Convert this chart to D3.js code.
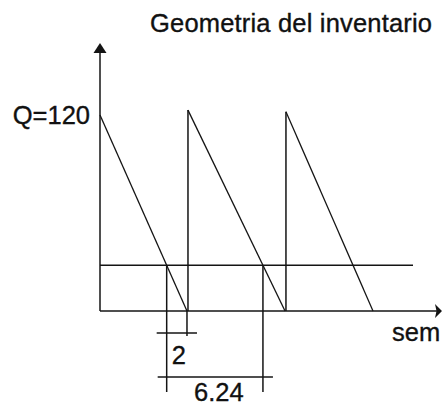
<!DOCTYPE html>
<html>
<head>
<meta charset="utf-8">
<script src="https://cdn.jsdelivr.net/npm/d3@7"></script>
<style>
  html, body { margin: 0; padding: 0; background: #fff; }
  svg { display: block; }
  text { font-family: "Liberation Sans", Arial, sans-serif; fill: #111; stroke: #111; stroke-width: 0.35; }
</style>
</head>
<body>
<svg id="chart" width="447" height="407"></svg>
<script>
// Inventory cycles (time in weeks, stock in units)
const cycleStart = [0, 5.72, 12.09];     // order arrives
const cycleEnd   = [5.655, 12.03, 17.75]; // stock reaches zero
const cyclePeak  = [120, 123, 122];       // stock right after arrival
const reorderLevel = 28;                  // reorder point
const reorderSpan  = [0, 20.35];          // extent of reorder line

const title = "Geometria del inventario";
const qLabel = "Q=120";
const xLabel = "sem";
const leadLabel = "2";
const cycleLabel = "6.24";

const svg = d3.select("#chart");
const ink = "#141414";
const fs = 25.5;

const x = d3.scaleLinear().domain([0, 22.04]).range([100, 439]);
const y = d3.scaleLinear().domain([0, 120]).range([311, 115]);

// Axes
svg.append("line").attr("x1", x(0)).attr("x2", x(0)).attr("y1", y(0)).attr("y2", 50)
  .attr("stroke", ink).attr("stroke-width", 1.5);
svg.append("path").attr("d", `M${x(0)},43 L${x(0) - 6.5},53 L${x(0) + 6.5},53 Z`).attr("fill", ink);

svg.append("line").attr("x1", x(0)).attr("x2", 437).attr("y1", y(0)).attr("y2", y(0))
  .attr("stroke", ink).attr("stroke-width", 1.5);
svg.append("path").attr("d", `M442,${y(0)} L435,${y(0) - 7} L436.5,${y(0)} L435,${y(0) + 7} Z`).attr("fill", ink);

// Reorder level
svg.append("line")
  .attr("x1", x(reorderSpan[0])).attr("x2", x(reorderSpan[1]))
  .attr("y1", y(reorderLevel)).attr("y2", y(reorderLevel))
  .attr("stroke", ink).attr("stroke-width", 1.5);

// Sawtooth: depletion slopes and replenishment jumps
const cycles = cycleStart.map((s, i) => ({ s, e: cycleEnd[i], q: cyclePeak[i] }));
svg.selectAll("line.slope").data(cycles).join("line").attr("class", "slope")
  .attr("x1", d => x(d.s)).attr("y1", d => y(d.q))
  .attr("x2", d => x(d.e)).attr("y2", y(0))
  .attr("stroke", ink).attr("stroke-width", 1.3);
svg.selectAll("line.jump").data(cycles.slice(1)).join("line").attr("class", "jump")
  .attr("x1", d => x(d.s)).attr("x2", d => x(d.s))
  .attr("y1", d => y(d.q)).attr("y2", y(0))
  .attr("stroke", ink).attr("stroke-width", 1.5);

// Points where stock reaches the reorder level
const cross = cycles.map(d => d.s + (d.e - d.s) * (1 - reorderLevel / d.q));

// Dimension lines: lead time and time between reorders
function seg(x1, y1, x2, y2) {
  svg.append("line").attr("x1", x1).attr("y1", y1).attr("x2", x2).attr("y2", y2)
    .attr("stroke", ink).attr("stroke-width", 1.5);
}
const yLead = 333, yCycle = 377;
seg(x(cross[0]), y(reorderLevel), x(cross[0]), 392);
seg(x(cycleEnd[0]), y(0), x(cycleEnd[0]), 336);
seg(x(cross[1]), y(reorderLevel), x(cross[1]), 392);
seg(x(cross[0]) - 10, yLead, x(cycleEnd[0]) + 10, yLead);
seg(x(cross[0]) - 9, yCycle, x(cross[1]) + 10, yCycle);

// Text
svg.append("text").attr("x", 150).attr("y", 32).attr("font-size", fs)
  .attr("textLength", 282).text(title);
svg.append("text").attr("x", 90).attr("y", 124).attr("text-anchor", "end")
  .attr("font-size", fs).text(qLabel);
svg.append("text").attr("x", 392).attr("y", 341).attr("font-size", fs).text(xLabel);
svg.append("text").attr("x", (x(cross[0]) + x(cycleEnd[0])) / 2 + 2).attr("y", 364)
  .attr("text-anchor", "middle").attr("font-size", fs).text(leadLabel);
svg.append("text").attr("x", (x(cross[0]) + x(cross[1])) / 2 + 4).attr("y", 401)
  .attr("text-anchor", "middle").attr("font-size", fs).text(cycleLabel);
</script>
</body>
</html>
